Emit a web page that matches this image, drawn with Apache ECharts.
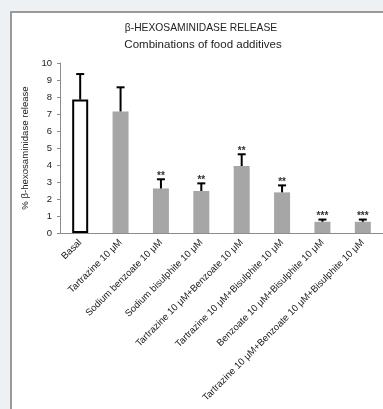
<!DOCTYPE html>
<html><head><meta charset="utf-8">
<script src="https://cdn.jsdelivr.net/npm/echarts@6/dist/echarts.min.js"></script>
<style>
html,body{margin:0;padding:0;background:#EDF1F4;width:383px;height:409px;overflow:hidden;}
#panel{position:absolute;left:10px;top:11px;width:400px;height:420px;background:#fff;border-left:2px solid #9a9a9a;border-top:2px solid #9a9a9a;}
#main{position:absolute;left:0;top:0;width:383px;height:409px;}
</style></head>
<body><div id="panel"></div><div id="main"></div>
<script>
const categories = ["Basal","Tartrazine 10 μM","Sodium benzoate 10 μM","Sodium bisulphite 10 μM","Tartrazine 10 μM+Benzoate 10 μM","Tartrazine 10 μM+Bisulphite 10 μM","Benzoate 10 μM+Bisulphite 10 μM","Tartrazine 10 μM+Benzoate 10 μM+Bisulphite 10 μM"];
const values = [7.85, 7.15, 2.62, 2.47, 3.94, 2.39, 0.66, 0.66];
const errorTops = [9.35, 8.57, 3.16, 2.92, 4.63, 2.8, 0.79, 0.79];
const significance = ["", "", "**", "**", "**", "**", "***", "***"];
const yTicks = [0,1,2,3,4,5,6,7,8,9,10];

const font = "Liberation Sans";
const chart = echarts.init(document.getElementById('main'), null, {renderer:'canvas'});
const barData = values.map((v,i)=> i===0 ? {value:v, itemStyle:{color:'#ffffff', borderColor:'#000', borderWidth:2}} : {value:v});
const errData = values.map((v,i)=>[i, v, errorTops[i], significance[i]]);
chart.setOption({
  animation:false,
  backgroundColor:'transparent',
  textStyle:{fontFamily:font},
  title:[
    {text:'β-HEXOSAMINIDASE RELEASE', left:196, top:18, textAlign:'center',
     textStyle:{fontFamily:font, fontSize:10.3, fontWeight:'normal', color:'#222'}},
    {text:'Combinations of food additives', left:198, top:34, textAlign:'center',
     textStyle:{fontFamily:font, fontSize:11.5, fontWeight:'normal', color:'#222'}}
  ],
  grid:{left:60, right:0, top:63, bottom:176, containLabel:false},
  xAxis:{
    type:'category', data:categories,
    axisLine:{lineStyle:{color:'#8c8c8c', width:1}},
    axisTick:{show:false},
    axisLabel:{rotate:45, fontSize:9.6, color:'#222', margin:8, interval:0, fontFamily:font}
  },
  yAxis:{
    type:'value', min:yTicks[0], max:yTicks[yTicks.length-1], interval:1,
    name:'% β-hexosaminidase release', nameLocation:'middle', nameGap:28,
    nameTextStyle:{fontSize:9.6, color:'#222', fontFamily:font},
    axisLine:{show:true, lineStyle:{color:'#8c8c8c'}},
    axisTick:{show:true, length:3, lineStyle:{color:'#8c8c8c'}},
    axisLabel:{fontSize:9.5, color:'#222', margin:8, fontFamily:font},
    splitLine:{show:false}
  },
  series:[
    {type:'bar', data:barData, barWidth:16, itemStyle:{color:'#a6a6a6'}, z:2},
    {type:'custom', data:errData, z:3,
     renderItem:function(params, api){
       const x = api.value(0);
       const top = api.coord([x, api.value(1)]);
       const hi = api.coord([x, api.value(2)]);
       const star = significance[params.dataIndex];
       const children = [
         {type:'line', shape:{x1:top[0], y1:top[1], x2:hi[0], y2:hi[1]}, style:{stroke:'#000', lineWidth:2}},
         {type:'line', shape:{x1:hi[0]-4, y1:hi[1], x2:hi[0]+4, y2:hi[1]}, style:{stroke:'#000', lineWidth:2}}
       ];
       if (star) children.push({type:'text', x:hi[0], y:hi[1]+2, style:{text:star, fontSize:10, fontWeight:'bold', fill:'#333', align:'center', verticalAlign:'bottom', fontFamily:font}});
       return {type:'group', children:children};
     }}
  ]
});
</script></body></html>
